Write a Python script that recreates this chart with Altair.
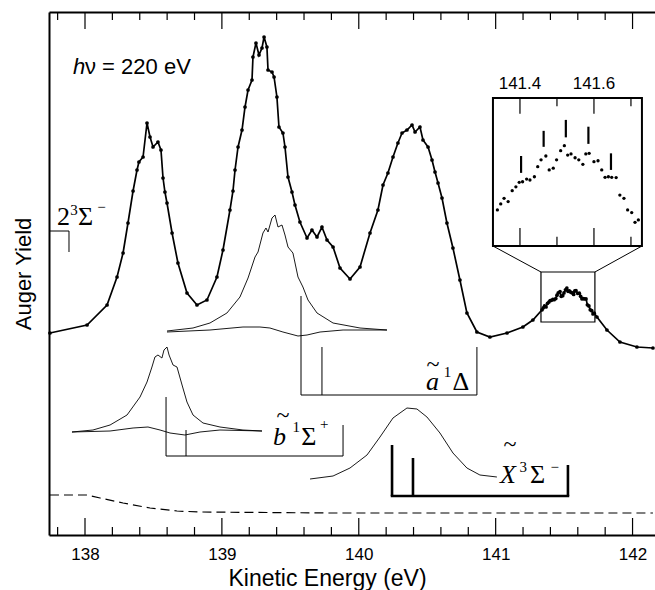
import altair as alt
import pandas as pd

# ---------------- main spectrum (kinetic energy eV, yield arb. units) ----------------
spec_E = [137.744, 138.015, 138.161, 138.234, 138.278, 138.314, 138.351, 138.380, 138.394, 138.424,
          138.453, 138.475, 138.497, 138.533, 138.555, 138.570, 138.584, 138.599, 138.636, 138.679,
          138.745, 138.818, 138.891, 138.964, 139.008, 139.059, 139.081, 139.096, 139.118, 139.147,
          139.169, 139.191, 139.220, 139.227, 139.249, 139.271, 139.293, 139.308, 139.329, 139.337,
          139.366, 139.381, 139.402, 139.417, 139.446, 139.461, 139.483, 139.512, 139.534, 139.570,
          139.622, 139.658, 139.695, 139.731, 139.768, 139.812, 139.863, 139.936, 140.009, 140.082,
          140.140, 140.177, 140.213, 140.250, 140.286, 140.316, 140.352, 140.389, 140.411, 140.447,
          140.469, 140.506, 140.535, 140.557, 140.579, 140.608, 140.644, 140.688, 140.739, 140.790,
          140.863, 140.958, 141.083, 141.199, 141.272,
          141.740, 141.813, 141.908, 142.032, 142.149]
spec_Y = [202, 210, 230, 258, 282, 312, 344, 365, 373, 378,
          412, 398, 388, 393, 385, 357, 343, 332, 302, 272,
          242, 230, 235, 258, 285, 325, 344, 365, 388, 405,
          428, 445, 455, 478, 492, 480, 487, 498, 488, 465,
          463, 458, 438, 408, 402, 388, 358, 343, 330, 313,
          297, 305, 298, 308, 295, 288, 267, 256, 268, 302,
          325, 350, 362, 378, 392, 402, 405, 410, 403, 408,
          395, 388, 375, 363, 352, 337, 312, 287, 255, 222,
          203, 198, 202, 208, 215,
          218, 205, 193, 188, 187]

# high-resolution points around the top of the X~ band (also shown in the inset)
ins_E = [141.339, 141.348, 141.357, 141.368, 141.379, 141.389, 141.398, 141.407, 141.418, 141.427,
         141.439, 141.448, 141.457, 141.470, 141.479, 141.490, 141.499, 141.510, 141.520, 141.529,
         141.538, 141.549, 141.559, 141.570, 141.578, 141.587, 141.600, 141.611, 141.621, 141.630,
         141.639, 141.648, 141.660, 141.670, 141.681, 141.691, 141.702, 141.711, 141.720]
ins_Y = [225.2, 227.2, 229.1, 228.0, 231.7, 233.0, 234.5, 234.7, 235.6, 235.3,
         236.4, 239.8, 242.1, 243.4, 238.7, 239.3, 242.1, 245.2, 246.9, 243.7,
         244.1, 242.8, 242.1, 240.6, 244.1, 244.3, 241.5, 241.8, 238.7, 236.2,
         236.4, 236.2, 236.1, 230.2, 229.1, 225.2, 224.3, 221.0, 221.8]

# ---------------- fitted components ----------------
a_fit_E = [138.599, 138.789, 138.913, 139.037, 139.132, 139.191, 139.242, 139.264, 139.300, 139.322,
           139.337, 139.366, 139.388, 139.410, 139.439, 139.461, 139.483, 139.519, 139.556, 139.592,
           139.629, 139.695, 139.812, 140.009, 140.206]
a_fit_Y = [204, 207, 212, 222, 238, 257, 278, 283, 302, 307,
           303, 317, 320, 308, 310, 300, 288, 282, 258, 248,
           235, 222, 212, 207, 205]
a_res_E = [138.599, 138.913, 139.154, 139.278, 139.351, 139.446, 139.556, 139.622, 139.717, 139.885, 140.206]
a_res_Y = [203, 205, 208, 208, 207, 203, 199, 200, 203, 205, 205]

b_fit_E = [137.905, 138.058, 138.183, 138.307, 138.402, 138.453, 138.489, 138.511, 138.533, 138.562,
           138.577, 138.599, 138.614, 138.643, 138.672, 138.709, 138.745, 138.789, 138.862, 138.986,
           139.154, 139.293]
b_fit_Y = [103, 105, 110, 120, 138, 153, 168, 178, 180, 177,
           185, 188, 180, 170, 168, 150, 133, 120, 112, 108,
           105, 104]
b_res_E = [137.905, 138.183, 138.351, 138.460, 138.548, 138.621, 138.730, 138.840, 138.986, 139.293]
b_res_Y = [103, 104, 107, 108, 105, 102, 100, 103, 105, 104]

x_fit_E = [139.644, 139.812, 139.936, 140.060, 140.155, 140.250, 140.352, 140.425, 140.498, 140.593,
           140.688, 140.790, 140.885, 141.009]
x_fit_Y = [56, 59, 67, 80, 98, 117, 127, 126, 118, 102, 82, 67, 60, 58]

# background (dashed)
bg_E = [137.744, 138.015, 138.110, 138.278, 138.475, 138.672, 138.840, 139.790, 142.149]
bg_Y = [40, 40, 37, 32, 27, 24, 23, 22, 22]

# ---------------- vibrational stick diagrams ----------------
thin_E = [139.578, 139.731, 140.863, 138.592, 138.738, 139.885, 137.883]
thin_top = [239, 188, 188, 138, 105, 110, 304]
thin_base = [140, 140, 140, 79, 79, 79, 283]
thin_bar_E0 = [139.578, 138.592, 137.737]
thin_bar_E1 = [140.863, 139.885, 137.883]
thin_bar_Y = [140, 79, 304]

thick_E = [140.243, 140.396, 141.528]
thick_top = [90, 77, 70]
thick_base = [39, 39, 39]
thick_bar_E0 = [140.243]
thick_bar_E1 = [141.528]
thick_bar_Y = [39]

ins_stick_E = [141.403, 141.464, 141.524, 141.585, 141.646]
ins_stick_top = [243.4, 251.9, 255.6, 253.3, 244.3]
ins_stick_bot = [237.7, 246.5, 249.7, 247.5, 238.7]

# zoomed window (main coords) and inset frame (inset coords)
zoom_E = [141.331, 141.725]
zoom_Y = [213, 263]
inset_E = [141.327, 141.7297]
inset_Y = [213, 263]
# connector lines from inset corners (main coords) to zoom window corners
conn_E0 = [140.980, 142.069]
conn_Y0 = [289, 289]
conn_E1 = [141.331, 141.725]
conn_Y1 = [263, 263]

# ---------------- tick values ----------------
major_ticks = [138, 139, 140, 141, 142]
minor_ticks = [137.8, 138.2, 138.4, 138.6, 138.8, 139.2, 139.4, 139.6, 139.8,
               140.2, 140.4, 140.6, 140.8, 141.2, 141.4, 141.6, 141.8]
ins_major = [141.4, 141.6]
ins_minor = [141.5, 141.7]
ins_labels = ["141.4", "141.6"]

# ---------------- annotations ----------------
lab_t = ["h", "ν = 220 eV",
         "2", "3", "Σ", "−",
         "X", "~", "3", "Σ", "−",
         "b", "~", "1", "Σ", "+",
         "a", "~", "1", "Δ"]
lab_E = [137.912, 138.000,
         137.795, 137.893, 137.949, 138.090,
         141.031, 141.104, 141.174, 141.251, 141.400,
         139.373, 139.446, 139.515, 139.580, 139.716,
         140.491, 140.542, 140.620, 140.685]
lab_Y = [461, 461,
         310, 320, 310, 323.5,
         52, 83, 63, 52, 63.5,
         90, 112, 103, 90, 106.5,
         145, 163, 158, 145]
lab_k = ["sans_i", "sans",
         "ser", "sup", "ser", "sup",
         "ser_i", "tilde", "sup", "ser", "sup",
         "ser_i", "tilde", "sup", "ser", "sup",
         "ser_i", "tilde", "sup", "ser"]

# ---------------- layout ----------------
W, H = 606, 523
X_DOM = [137.737, 142.164]
Y_DOM = [0, 523]
XI_DOM = [140.127, 141.765]    # inset energy range spread over the full plot width
YI_DOM = [115.36, 292.05]      # inset yield range spread over the full plot height
KX = (X_DOM[1] - X_DOM[0]) / (XI_DOM[1] - XI_DOM[0])
KY = (Y_DOM[1] - Y_DOM[0]) / (YI_DOM[1] - YI_DOM[0])
SANS = "Liberation Sans"
SERIF = "Liberation Serif"

xs = alt.Scale(domain=X_DOM, nice=False, zero=False)
ys = alt.Scale(domain=Y_DOM, nice=False, zero=False)

# one shared left axis definition used by every y encoding (so merging keeps it)
y_axis = alt.Axis(orient="left", title="Auger Yield", labels=False, ticks=False, tickSize=0,
                  grid=False, domain=True, domainWidth=2, domainColor="black",
                  titleFont=SANS, titleFontSize=22, titleFontWeight="normal",
                  titleColor="black", titlePadding=14)


def mx(f):
    return alt.X(f, type="quantitative", scale=xs, axis=None)


def my(f):
    return alt.Y(f, type="quantitative", scale=ys, axis=y_axis)


def ex(field):
    # inset energy -> main energy coordinate
    return f"{X_DOM[0]} + (datum.{field} - {XI_DOM[0]}) * {KX}"


def ey(field):
    # inset yield -> main yield coordinate
    return f"{Y_DOM[0]} + (datum.{field} - {YI_DOM[0]}) * {KY}"


spec_df = pd.DataFrame({"E": spec_E + ins_E, "Y": spec_Y + ins_Y}).sort_values("E")
ins_df = pd.DataFrame({"E": ins_E, "Y": ins_Y})

comp_df = pd.concat([
    pd.DataFrame({"E": a_fit_E, "Y": a_fit_Y, "c": "a_fit"}),
    pd.DataFrame({"E": a_res_E, "Y": a_res_Y, "c": "a_res"}),
    pd.DataFrame({"E": b_fit_E, "Y": b_fit_Y, "c": "b_fit"}),
    pd.DataFrame({"E": b_res_E, "Y": b_res_Y, "c": "b_res"}),
    pd.DataFrame({"E": x_fit_E, "Y": x_fit_Y, "c": "x_fit"}),
])
bg_df = pd.DataFrame({"E": bg_E, "Y": bg_Y})
thin_df = pd.DataFrame({"E": thin_E, "t": thin_top, "b": thin_base})
thin_bar_df = pd.DataFrame({"E0": thin_bar_E0, "E1": thin_bar_E1, "Y": thin_bar_Y})
thick_df = pd.DataFrame({"E": thick_E, "t": thick_top, "b": thick_base})
thick_bar_df = pd.DataFrame({"E0": thick_bar_E0, "E1": thick_bar_E1, "Y": thick_bar_Y})
zoom_df = pd.DataFrame({"E0": [zoom_E[0]], "E1": [zoom_E[1]], "Y0": [zoom_Y[0]], "Y1": [zoom_Y[1]]})
conn_df = pd.DataFrame({"E0": conn_E0, "Y0": conn_Y0, "E1": conn_E1, "Y1": conn_Y1})
maj_df = pd.DataFrame({"E": major_ticks})
min_df = pd.DataFrame({"E": minor_ticks})
lab_df = pd.DataFrame({"t": lab_t, "E": lab_E, "Y": lab_Y, "k": lab_k})

# ---------------- main panel ----------------
dots = alt.Chart(spec_df).mark_circle(color="black", size=14, opacity=1).encode(x=mx("E"), y=my("Y"))
fit_line = alt.Chart(spec_df).mark_line(color="black", strokeWidth=1.7).encode(x=mx("E"), y=my("Y"))
comps = alt.Chart(comp_df).mark_line(color="black", strokeWidth=0.9).encode(
    x=mx("E"), y=my("Y"), detail="c:N")
bg = alt.Chart(bg_df).mark_line(color="black", strokeWidth=1.2, strokeDash=[9, 5]).encode(
    x=mx("E"), y=my("Y"))
thin_st = alt.Chart(thin_df).mark_rule(color="black", strokeWidth=1).encode(
    x=mx("E"), y=my("t"), y2="b")
thin_bar = alt.Chart(thin_bar_df).mark_rule(color="black", strokeWidth=1).encode(
    x=mx("E0"), x2="E1", y=my("Y"))
thick_st = alt.Chart(thick_df).mark_rule(color="black", strokeWidth=2.6).encode(
    x=mx("E"), y=my("t"), y2="b")
thick_bar = alt.Chart(thick_bar_df).mark_rule(color="black", strokeWidth=2.6, strokeCap="square").encode(
    x=mx("E0"), x2="E1", y=my("Y"))
zoom_box = alt.Chart(zoom_df).mark_rect(filled=False, stroke="black", strokeWidth=1.2).encode(
    x=mx("E0"), x2="E1", y=my("Y0"), y2="Y1")
conns = alt.Chart(conn_df).mark_rule(color="black", strokeWidth=1).encode(
    x=mx("E0"), x2="E1", y=my("Y0"), y2="Y1")

bottom_axis = alt.Axis(orient="bottom", values=major_ticks, format="d", ticks=False, tickSize=0,
                       grid=False, domain=True, domainWidth=2, domainColor="black",
                       labelFont=SANS, labelFontSize=17, labelColor="black", labelPadding=11,
                       title="Kinetic Energy (eV)", titleFont=SANS, titleFontSize=23,
                       titleFontWeight="normal", titleColor="black", titleX=278, titleY=50,
                       titleBaseline="alphabetic", titleAlign="center")
top_axis = alt.Axis(orient="top", labels=False, ticks=False, tickSize=0, grid=False,
                    domain=True, domainWidth=2, domainColor="black", title=None)

tick_b_major = alt.Chart(maj_df).mark_rule(color="black", strokeWidth=1.2).encode(
    x=alt.X("E", type="quantitative", scale=xs, axis=bottom_axis),
    y=alt.value(H), y2=alt.value(H - 17))
tick_b_minor = alt.Chart(min_df).mark_rule(color="black", strokeWidth=1.2).encode(
    x=mx("E"), y=alt.value(H), y2=alt.value(H - 8))
tick_t_major = alt.Chart(maj_df).mark_rule(color="black", strokeWidth=1.2).encode(
    x=alt.X("E", type="quantitative", scale=xs, axis=top_axis),
    y=alt.value(0), y2=alt.value(17))
tick_t_minor = alt.Chart(min_df).mark_rule(color="black", strokeWidth=1.2).encode(
    x=mx("E"), y=alt.value(0), y2=alt.value(8))


def text_layer(kind, font, size, style="normal", align="left"):
    return alt.Chart(lab_df).transform_filter(alt.datum.k == kind).mark_text(
        align=align, baseline="alphabetic", color="black", font=font, fontSize=size,
        fontStyle=style).encode(x=mx("E"), y=my("Y"), text="t:N")


texts = [
    text_layer("sans_i", SANS, 22, "italic"),
    text_layer("sans", SANS, 22),
    text_layer("ser", SERIF, 26),
    text_layer("ser_i", SERIF, 26, "italic"),
    text_layer("sup", SERIF, 15),
    text_layer("tilde", SERIF, 24, align="center"),
]

# ---------------- inset (its own energy / yield ranges, mapped onto the plot) ----------------
INS_MAJ_LEN = 5.3
INS_MIN_LEN = 2.8
ins_box_df = pd.DataFrame({"E0": [inset_E[0]], "E1": [inset_E[1]], "Y0": [inset_Y[0]], "Y1": [inset_Y[1]]})
ins_ticks_df = pd.concat([
    pd.DataFrame({"E": ins_major, "y0": inset_Y[1], "y1": inset_Y[1] - INS_MAJ_LEN}),
    pd.DataFrame({"E": ins_minor, "y0": inset_Y[1], "y1": inset_Y[1] - INS_MIN_LEN}),
    pd.DataFrame({"E": ins_major, "y0": inset_Y[0], "y1": inset_Y[0] + INS_MAJ_LEN * 1.15}),
    pd.DataFrame({"E": ins_minor, "y0": inset_Y[0], "y1": inset_Y[0] + INS_MIN_LEN * 1.1}),
])
ins_lab_df = pd.DataFrame({"t": ins_labels, "E": ins_major, "Y": [inset_Y[1] + 3.0] * 2})
ins_st_df = pd.DataFrame({"E": ins_stick_E, "t": ins_stick_top, "b": ins_stick_bot})

ins_dots = alt.Chart(ins_df).transform_calculate(Em=ex("E"), Ym=ey("Y")).mark_circle(
    color="black", size=11, opacity=1).encode(x=mx("Em:Q"), y=my("Ym:Q"))
ins_box = alt.Chart(ins_box_df).transform_calculate(
    a=ex("E0"), b=ex("E1"), c=ey("Y0"), d=ey("Y1")).mark_rect(
    filled=False, stroke="black", strokeWidth=2).encode(x=mx("a:Q"), x2="b:Q", y=my("c:Q"), y2="d:Q")
ins_ticks = alt.Chart(ins_ticks_df).transform_calculate(
    a=ex("E"), c=ey("y0"), d=ey("y1")).mark_rule(color="black", strokeWidth=1.2).encode(
    x=mx("a:Q"), y=my("c:Q"), y2="d:Q")
ins_sticks = alt.Chart(ins_st_df).transform_calculate(
    a=ex("E"), c=ey("t"), d=ey("b")).mark_rule(color="black", strokeWidth=2.2).encode(
    x=mx("a:Q"), y=my("c:Q"), y2="d:Q")
ins_text = alt.Chart(ins_lab_df).transform_calculate(a=ex("E"), c=ey("Y")).mark_text(
    align="center", baseline="alphabetic", color="black", font=SANS, fontSize=17).encode(
    x=mx("a:Q"), y=my("c:Q"), text="t:N")

chart = alt.layer(
    dots, fit_line, bg, comps, thin_st, thin_bar, thick_st, thick_bar, zoom_box, conns,
    tick_b_major, tick_b_minor, tick_t_major, tick_t_minor,
    ins_box, ins_ticks, ins_sticks, ins_dots, ins_text, *texts,
).properties(
    width=W, height=H,
    padding={"left": 49, "top": 12, "right": 0, "bottom": 55},
    autosize=alt.AutoSizeParams(type="none"),
).configure_view(stroke=None)

chart.save("out.html", embed_options={"renderer": "svg", "actions": False})
